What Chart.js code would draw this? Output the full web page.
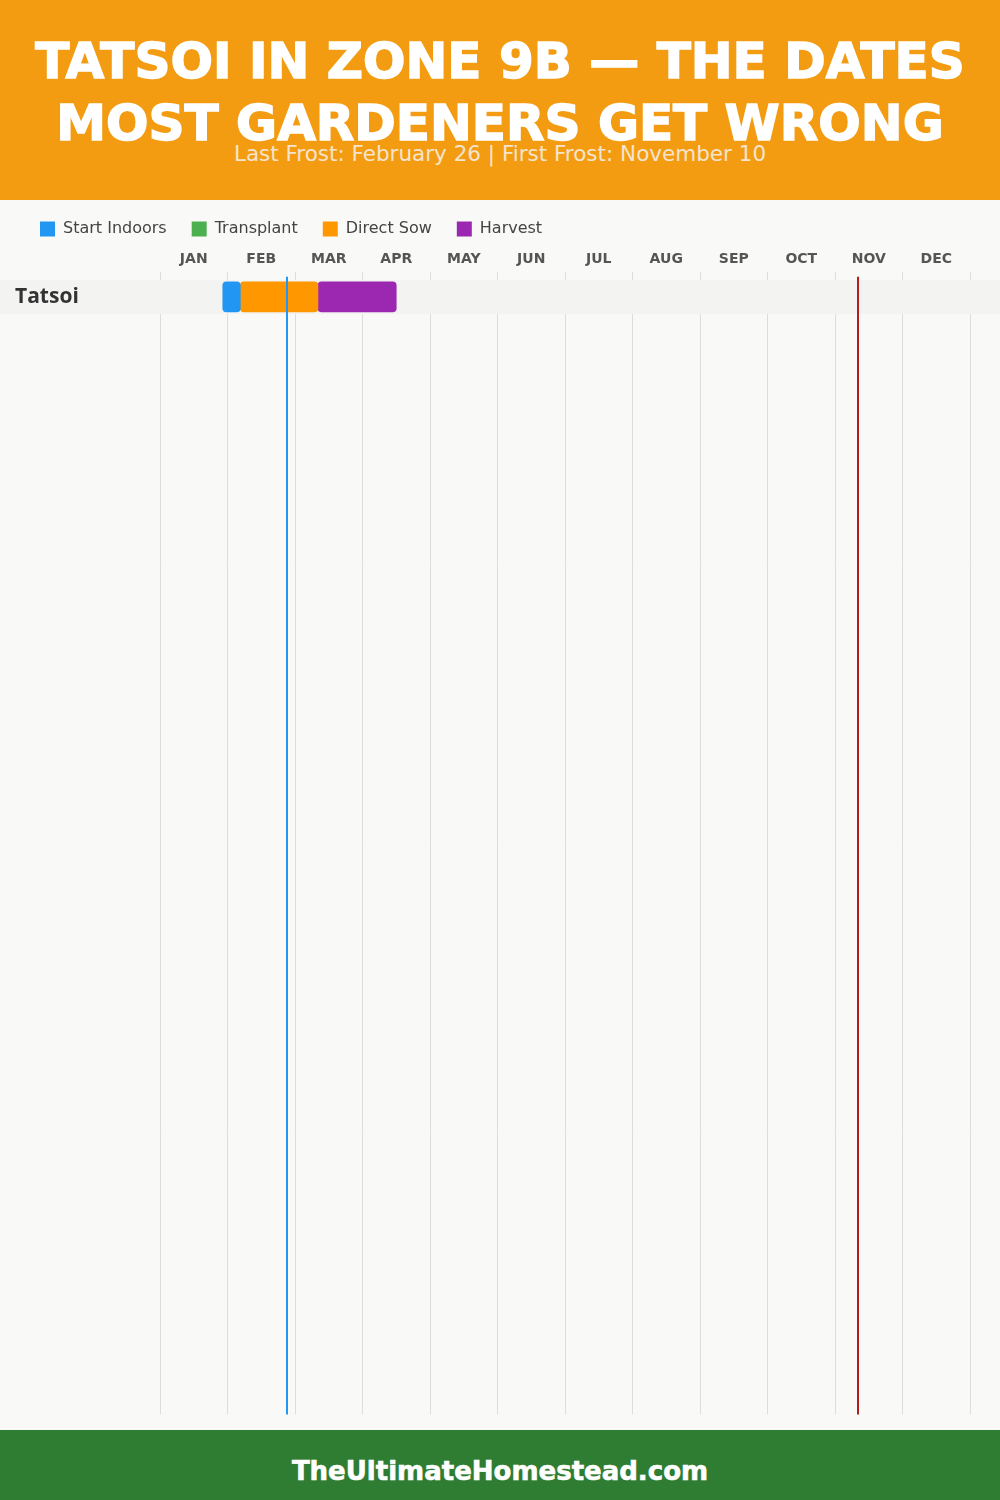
<!DOCTYPE html>
<html>
<head>
<meta charset="utf-8">
<script src="https://cdn.jsdelivr.net/npm/chart.js@4"></script>
<style>
  body { margin: 0; width: 1000px; height: 1500px; background: #f9f9f7; font-family: "DejaVu Sans", sans-serif; position: relative; overflow: hidden; }
  #header { position: absolute; left: 0; top: 0; width: 1000px; height: 200px; background: #f39c12; }
  #title { position: absolute; top: 30px; width: 1000px; text-align: center; color: #fff; font-weight: bold; font-size: 50px; line-height: 62px; -webkit-text-stroke: 1.5px #fff; }
  #sub { position: absolute; top: 141px; width: 1000px; text-align: center; color: #f5e4cd; font-size: 21.5px; }
  #wrap { position: absolute; left: 0; top: 196px; width: 1000px; height: 1234px; }
  #footer { position: absolute; left: 0; top: 1430px; width: 1000px; height: 70px; background: #2e7d32; color: #fff; font-weight: bold; font-size: 26px; text-align: center; line-height: 82px; -webkit-text-stroke: 0.6px #fff; }
</style>
</head>
<body>
<div id="header">
  <div id="title">TATSOI IN ZONE 9B — THE DATES<br>MOST GARDENERS GET WRONG</div>
  <div id="sub">Last Frost: February 26 | First Frost: November 10</div>
</div>
<div id="wrap"><canvas id="chart" width="1000" height="1234"></canvas></div>
<div id="footer">TheUltimateHomestead.com</div>
<script>
const months = ["JAN", "FEB", "MAR", "APR", "MAY", "JUN", "JUL", "AUG", "SEP", "OCT", "NOV", "DEC"];
const crops = ["Tatsoi"];
// ranges in months from Jan 1 (0 = Jan 1, 12 = Dec 31)
const startIndoors = [[0.93, 1.19]];
const transplant = [null];
const directSow = [[1.19, 2.34]];
const harvest = [[2.34, 3.5]];
const lastFrost = 1.88;
const firstFrost = 10.34;

const rowH = 34.5;

// row i spans i .. i+1, bar centred at i+0.5
function rows(ranges) {
  return crops.map((c, i) => ranges[i] ? { x: ranges[i], y: i + 0.5 } : null).filter(d => d);
}

const bandPlugin = {
  id: "band",
  beforeDatasetsDraw(chart) {
    const ctx = chart.ctx, y = chart.scales.y;
    ctx.save();
    ctx.fillStyle = "#f3f3f2";
    crops.forEach((c, i) => {
      const top = y.getPixelForValue(i), bot = y.getPixelForValue(i + 1);
      ctx.fillRect(0, top, chart.width, bot - top);
    });
    ctx.restore();
  },
  afterDatasetsDraw(chart) {
    const ctx = chart.ctx, x = chart.scales.x, a = chart.chartArea;
    ctx.save();
    ctx.lineWidth = 2;
    [[lastFrost, "#2196f3"], [firstFrost, "#b71c1c"]].forEach(([v, col]) => {
      const px = Math.round(x.getPixelForValue(v));
      ctx.strokeStyle = col;
      ctx.beginPath();
      ctx.moveTo(px, a.top - 3);
      ctx.lineTo(px, a.bottom);
      ctx.stroke();
    });
    ctx.restore();
  }
};

new Chart(document.getElementById("chart"), {
  type: "bar",
  data: {
    datasets: [
      { label: "Start Indoors", data: rows(startIndoors), backgroundColor: "#2196f3" },
      { label: "Transplant", data: rows(transplant), backgroundColor: "#4caf50" },
      { label: "Direct Sow", data: rows(directSow), backgroundColor: "#ff9800" },
      { label: "Harvest", data: rows(harvest), backgroundColor: "#9c27b0" }
    ]
  },
  options: {
    responsive: false,
    animation: false,
    indexAxis: "y",
    layout: { padding: { left: 15, right: 30, bottom: 4, top: 0 } },
    datasets: { bar: { barThickness: 30, grouped: false, borderRadius: 4, borderSkipped: false } },
    plugins: {
      legend: {
        align: "start",
        labels: { boxWidth: 15, boxHeight: 15, padding: 25, color: "#444", font: { family: "DejaVu Sans", size: 16 } }
      },
      tooltip: { enabled: false }
    },
    scales: {
      x: {
        type: "linear",
        position: "top",
        min: 0,
        max: 12,
        border: { display: false },
        grid: { color: "#dddddd", lineWidth: 1, drawTicks: true, tickLength: 8 },
        ticks: {
          stepSize: 1,
          labelOffset: 33.75,
          padding: 4,
          color: "#555",
          font: { family: "DejaVu Sans", size: 14, weight: "bold" },
          callback: v => months[v] || ""
        }
      },
      y: {
        type: "linear",
        reverse: true,
        offset: false,
        min: 0,
        max: 1142 / rowH,
        border: { display: false },
        grid: { display: false },
        afterFit(scale) { scale.width = 145; },
        ticks: {
          z: 1,
          autoSkip: false,
          stepSize: 1,
          labelOffset: rowH / 2,
          crossAlign: "far",
          color: "#333",
          font: { family: "Open Sans", size: 21, weight: "bold" },
          callback: v => crops[v]
        }
      }
    }
  },
  plugins: [bandPlugin]
});
</script>
</body>
</html>
